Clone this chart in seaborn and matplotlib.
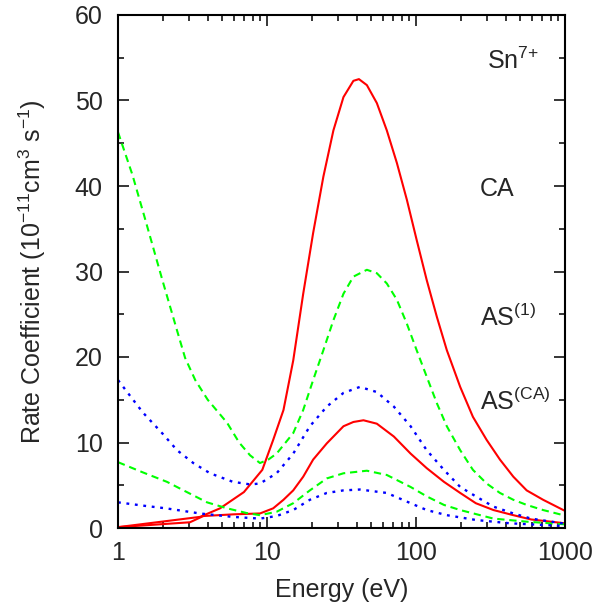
import numpy as np
import pandas as pd
import matplotlib
matplotlib.use("Agg")
import matplotlib.pyplot as plt
import seaborn as sns
from matplotlib.ticker import MultipleLocator, FixedLocator, NullFormatter

# Curves (energy in eV, rate in 1e-11 cm^3 s^-1)
# red solid, upper / lower
ca_hi_e = [1, 3.55, 4.84, 7.0, 9.3, 11.0, 12.9, 15.0, 17.5, 20.4, 23.9, 27.9, 32.6, 38.0, 41.4, 46.8, 54.6, 63.7, 74.4, 86.8, 101, 118, 138, 161, 198, 241, 298, 366, 450, 553, 713, 1000]
ca_hi_r = [0.1, 1.3, 2.3, 4.2, 6.8, 10.3, 13.8, 19.6, 27.4, 34.5, 41.1, 46.5, 50.4, 52.3, 52.5, 51.8, 49.7, 46.5, 42.7, 38.4, 33.7, 29.0, 24.7, 20.8, 16.5, 13.0, 10.3, 8.0, 6.0, 4.4, 3.3, 2.0]
ca_lo_e = [1, 3.04, 3.74, 6, 8.97, 11, 12.9, 15, 17.5, 20.4, 25.2, 32.6, 38, 44.4, 54.6, 71, 92, 118, 154, 198, 252, 331, 450, 592, 1000]
ca_lo_r = [0.1, 0.67, 1.4, 1.6, 1.7, 2.3, 3.3, 4.4, 6.0, 8.0, 9.9, 11.9, 12.4, 12.6, 12.2, 10.7, 8.7, 7.0, 5.4, 4.1, 2.9, 2.1, 1.5, 1.0, 0.55]

# green dashed, upper / lower
as1_hi_e = [1, 1.25, 1.5, 2, 2.5, 2.82, 3.3, 4, 5.4, 6.5, 7.7, 8.97, 10.2, 11.6, 15, 17.5, 20.4, 23.9, 27.9, 32.6, 38, 46.8, 54.6, 63.7, 74.4, 86.8, 101, 118, 138, 161, 198, 241, 298, 366, 450, 553, 713, 1000]
as1_hi_r = [46.3, 41.3, 36.5, 28.8, 23, 19.9, 17.3, 15.0, 12.3, 10.0, 8.5, 7.6, 8.0, 8.7, 11.1, 13.8, 17.3, 20.8, 24.3, 27.4, 29.4, 30.2, 29.8, 28.6, 26.7, 23.9, 20.8, 17.7, 14.6, 11.9, 9.1, 6.8, 5.2, 4.1, 3.3, 2.7, 2.1, 1.45]
as1_lo_e = [1, 1.47, 2.13, 2.9, 3.96, 5.4, 7.3, 8.97, 11.6, 15, 19.4, 25.2, 32.6, 46.8, 63.7, 92, 118, 154, 198, 331, 553, 1000]
as1_lo_r = [7.7, 6.5, 5.4, 4.2, 3.0, 2.3, 1.75, 1.5, 1.9, 2.9, 4.4, 5.8, 6.4, 6.7, 6.2, 4.8, 3.7, 2.7, 2.1, 1.1, 0.74, 0.43]

# blue dotted, upper / lower
asca_hi_e = [1, 1.47, 2, 2.49, 3.2, 4.15, 5.9, 7.7, 8.97, 11.6, 15, 19.4, 25.2, 32.6, 42, 54.6, 71, 92, 118, 154, 198, 252, 331, 450, 592, 1000]
asca_hi_r = [17.3, 13.5, 11.0, 9.1, 7.6, 6.4, 5.4, 5.1, 5.2, 6.4, 8.7, 11.9, 14.2, 15.8, 16.5, 15.9, 14.2, 11.9, 9.1, 6.8, 4.8, 3.7, 2.5, 1.7, 1.1, 0.5]
asca_lo_e = [1, 1.5, 2.1, 3.55, 5.9, 8.97, 11.6, 15, 19.4, 25.2, 32.6, 42, 63.7, 92, 118, 161, 252, 426, 1000]
asca_lo_r = [3.0, 2.6, 2.3, 1.7, 1.3, 1.1, 1.4, 2.1, 3.3, 4.1, 4.4, 4.5, 4.1, 2.9, 2.1, 1.5, 0.94, 0.55, 0.23]

x_ticks = [1, 10, 100, 1000]
x_ticklabels = ["1", "10", "100", "1000"]
y_ticks = [0, 10, 20, 30, 40, 50, 60]

sns.set_style("ticks")
plt.rcParams["font.family"] = ["Liberation Sans", "DejaVu Sans"]
plt.rcParams["mathtext.default"] = "regular"
plt.rcParams["font.size"] = 18

fig = plt.figure(figsize=(5.99, 6.09), dpi=100)
ax = fig.add_axes([118 / 599, 1 - 528 / 609, (565 - 118) / 599, (528 - 15) / 609])

red, green, blue = "#ff0000", "#00ff00", "#0000ff"
dash = (0, (3.5, 2.3))
dot = (0, (1.2, 2.4))

sns.lineplot(x=ca_hi_e, y=ca_hi_r, color=red, lw=1.5, ax=ax, estimator=None)
sns.lineplot(x=ca_lo_e, y=ca_lo_r, color=red, lw=1.5, ax=ax, estimator=None)
sns.lineplot(x=as1_hi_e, y=as1_hi_r, color=green, lw=1.5, linestyle=dash, ax=ax, estimator=None)
sns.lineplot(x=as1_lo_e, y=as1_lo_r, color=green, lw=1.5, linestyle=dash, ax=ax, estimator=None)
sns.lineplot(x=asca_hi_e, y=asca_hi_r, color=blue, lw=1.7, linestyle=dot, ax=ax, estimator=None)
sns.lineplot(x=asca_lo_e, y=asca_lo_r, color=blue, lw=1.7, linestyle=dot, ax=ax, estimator=None)

ax.set_xscale("log")
ax.set_xlim(1, 1000)
ax.set_ylim(0, 60)
ax.xaxis.set_major_locator(FixedLocator(x_ticks))
ax.set_xticklabels(x_ticklabels)
ax.xaxis.set_minor_formatter(NullFormatter())
ax.set_yticks(y_ticks)
ax.yaxis.set_minor_locator(MultipleLocator(5))

ax.tick_params(which="both", direction="in", top=True, right=True, labelsize=18, color="black")
ax.tick_params(which="major", length=8, width=1.1)
ax.tick_params(which="minor", length=4, width=1.1)
ax.tick_params(axis="x", pad=9)
ax.tick_params(axis="y", pad=11)
for s in ax.spines.values():
    s.set_linewidth(1.5)
    s.set_color("black")

ax.set_xlabel("Energy (eV)", fontsize=18, labelpad=10)
ax.set_ylabel("Rate Coefficient (10$^{-11}$cm$^3$ s$^{-1}$)", fontsize=18, labelpad=19)

ax.text(300, 53.7, "Sn$^{7{+}}$", fontsize=18, va="baseline", ha="left")
ax.text(268, 38.8, "CA", fontsize=18, va="baseline", ha="left")
ax.text(268, 23.6, "AS$^{(1)}$", fontsize=18, va="baseline", ha="left")
ax.text(268, 13.8, "AS$^{(CA)}$", fontsize=18, va="baseline", ha="left")

fig.savefig("out.png", dpi=100)
